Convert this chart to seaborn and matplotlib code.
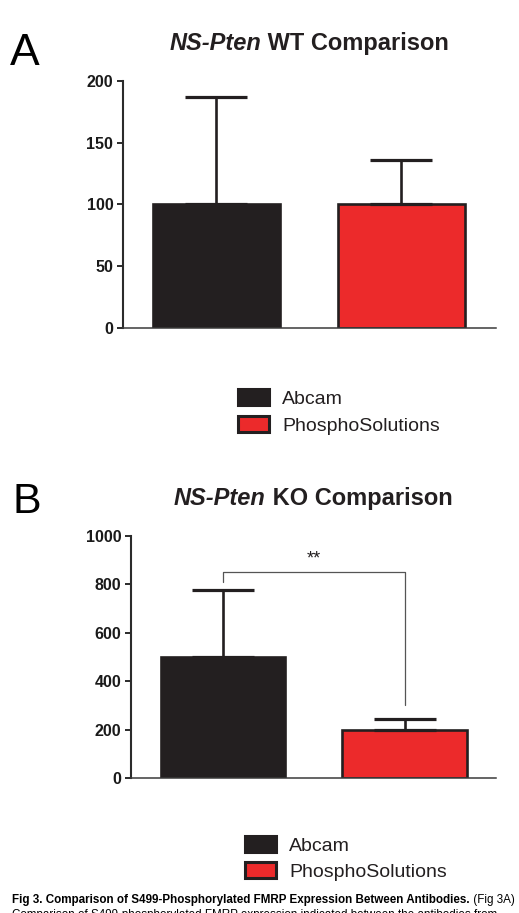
import numpy as np
import pandas as pd
import matplotlib
matplotlib.use("Agg")
import matplotlib.pyplot as plt
from matplotlib.patches import Patch
import seaborn as sns

# ---------------- data ----------------
antibodies = ["Abcam", "PhosphoSolutions"]
wt_means = [100, 100]
wt_err = [87, 36]
ko_means = [500, 198]
ko_err = [277, 46]
wt_ticks = [0, 50, 100, 150, 200]
ko_ticks = [0, 200, 400, 600, 800, 1000]
bar_colors = ["#231f20", "#ec2a2b"]
sig_label = "**"
sig_levels = [810, 851, 302]   # bracket: left foot, top, right foot

# ---------------- style ----------------
sns.set_theme(style="ticks")
plt.rcParams["font.family"] = ["Liberation Sans", "DejaVu Sans"]
DARK = "#231f20"

W, H = 519, 913
fig = plt.figure(figsize=(W / 100, H / 100), dpi=100)
fig.patch.set_facecolor("white")


def fx(px):
    return px / W


def fy(py):
    return 1 - py / H


def axes_px(l, t, r, b):
    return fig.add_axes([l / W, 1 - b / H, (r - l) / W, (b - t) / H])


def panel(ax, means, errs, ticks, xlim):
    df = pd.DataFrame({"antibody": antibodies, "value": means})
    sns.barplot(data=df, x="antibody", y="value", hue="antibody",
                palette=bar_colors, width=0.685, edgecolor=DARK,
                linewidth=1.9, saturation=1, errorbar=None, legend=False,
                ax=ax)
    ax.errorbar(x=[0, 1], y=means, yerr=[[0, 0], errs], fmt="none",
                ecolor=DARK, elinewidth=1.9, capsize=22, capthick=2.3,
                zorder=5)
    ax.set_xlim(*xlim)
    ax.set_ylim(ticks[0], ticks[-1])
    ax.set_yticks(ticks)
    ax.set_yticklabels([str(t) for t in ticks], fontweight="bold",
                       fontsize=11.5, color="#1a1a1a")
    ax.set_xticks([])
    ax.set_xlabel("")
    ax.set_ylabel("")
    sns.despine(ax=ax)
    ax.spines["left"].set_linewidth(1.5)
    ax.spines["left"].set_color("#2b2b2b")
    ax.spines["bottom"].set_linewidth(1.1)
    ax.spines["bottom"].set_color("#3a3a3a")
    ax.tick_params(axis="y", length=4.5, width=1.4, color="#2b2b2b", pad=2.5)
    ax.set_facecolor("none")


axA = axes_px(123, 81, 496, 328)
axB = axes_px(131, 536, 496, 778)
panel(axA, wt_means, wt_err, wt_ticks, (-0.505, 1.511))
panel(axB, ko_means, ko_err, ko_ticks, (-0.507, 1.504))

# significance bracket
axB.plot([0, 0, 1, 1], [sig_levels[0], sig_levels[1], sig_levels[1], sig_levels[2]],
         color="#555555", lw=0.9, clip_on=False, zorder=6)
axB.text(0.5, 905, sig_label, ha="center", va="center", fontsize=13,
         color=DARK)

# ---------------- text helpers ----------------
fig.canvas.draw()
renderer = fig.canvas.get_renderer()


def runs(x_px, y_px, parts, align="left"):
    arts = []
    widths = []
    for txt, kw in parts:
        t = fig.text(0, fy(y_px), txt, va="baseline", ha="left", **kw)
        bb = t.get_window_extent(renderer=renderer)
        arts.append(t)
        widths.append(bb.width)
    total = sum(widths)
    if align == "center":
        x0 = x_px - total / 2
    elif align == "right":
        x0 = x_px - total
    else:
        x0 = x_px
    for t, w in zip(arts, widths):
        t.set_x(fx(x0))
        x0 += w
    return arts


def width_at10(text, **kw):
    t = fig.text(0, 0, text, fontsize=10, **kw)
    w = t.get_window_extent(renderer=renderer).width
    t.remove()
    return w


# panel letters
fig.text(fx(10), fy(65), "A", fontsize=32, va="baseline", color="black")
fig.text(fx(12), fy(513), "B", fontsize=31, va="baseline", color="black")

# titles
for ytitle, xc, word in [(50, 309, "WT"), (505, 313, "KO")]:
    runs(xc, ytitle,
         [("NS-Pten", dict(fontsize=17, fontweight="bold", fontstyle="italic", color=DARK)),
          (" " + word + " Comparison", dict(fontsize=17, fontweight="bold", color=DARK))],
         align="center")

# legends
handles = [Patch(facecolor=c, edgecolor=DARK, linewidth=2.2) for c in bar_colors]
for (lx, ly, sp) in [(238, 412, 0.45), (245, 858.5, 0.38)]:
    fig.legend(handles, antibodies, loc="center left",
               bbox_to_anchor=(fx(lx), fy(ly)), frameon=False,
               fontsize=14, handlelength=1.6, handleheight=0.87,
               handletextpad=0.67, labelspacing=sp, borderpad=0,
               borderaxespad=0, labelcolor=DARK)

# caption (condensed sans, one size for the whole caption)
narrow = ["Liberation Sans Narrow", "Liberation Sans", "DejaVu Sans"]
cap_bold = "Fig 3. Comparison of S499-Phosphorylated FMRP Expression Between Antibodies."
cap_tail = " (Fig 3A)"
cap_line2 = "Comparison of S499-phosphorylated FMRP expression indicated between the antibodies from"
wb = width_at10(cap_bold, fontweight="bold", family=narrow)
wt = width_at10(cap_tail, family=narrow)
s_cap = 10 * 503 / (wb + wt)
runs(12, 903, [(cap_bold, dict(fontsize=s_cap, fontweight="bold", family=narrow, color="black")),
               (cap_tail, dict(fontsize=s_cap, family=narrow, color="black"))])
fig.text(fx(12), fy(918), cap_line2, fontsize=s_cap, family=narrow,
         va="baseline", color="black")

fig.savefig("out.png", dpi=100, facecolor="white")
